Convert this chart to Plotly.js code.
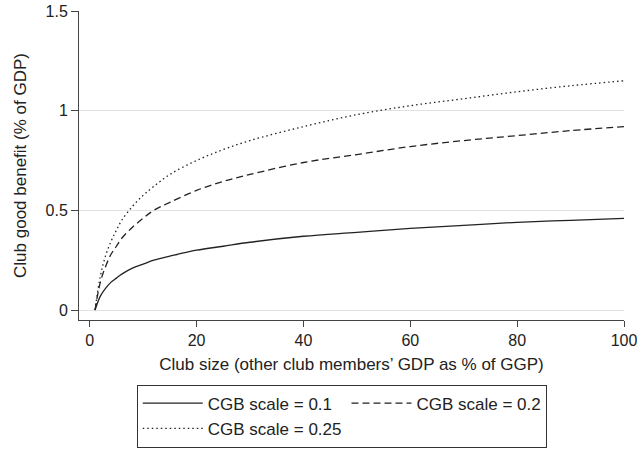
<!DOCTYPE html>
<html>
<head>
<meta charset="utf-8">
<script src="https://cdn.plot.ly/plotly-3.0.1.min.js"></script>
<style>html,body{margin:0;padding:0;background:#fff;}#chart{width:637px;height:449px;}</style>
</head>
<body>
<div id="chart"></div>
<script>
// Club size (other club members' GDP as % of GGP)
const clubSize = [1, 2, 3, 4, 5, 6, 8, 10, 12, 15, 20, 25, 30, 40, 50, 60, 70, 80, 90, 100];
// Club good benefit (% of GDP)
const cgb01  = [0, 0.07, 0.11, 0.14, 0.16, 0.18, 0.21, 0.23, 0.25, 0.27, 0.30, 0.32, 0.34, 0.37, 0.39, 0.41, 0.425, 0.44, 0.45, 0.46];
const cgb02  = [0, 0.14, 0.22, 0.28, 0.32, 0.36, 0.415, 0.46, 0.50, 0.54, 0.60, 0.645, 0.68, 0.74, 0.78, 0.82, 0.85, 0.875, 0.90, 0.92];
const cgb025 = [0, 0.17, 0.275, 0.345, 0.40, 0.45, 0.52, 0.575, 0.62, 0.68, 0.75, 0.805, 0.85, 0.92, 0.98, 1.025, 1.06, 1.095, 1.125, 1.15];
const seriesNames = ['CGB scale = 0.1', 'CGB scale = 0.2', 'CGB scale = 0.25'];
const xTicks = [0, 20, 40, 60, 80, 100];
const yTicks = [0, 0.5, 1, 1.5];
const yTickText = ['0', '0.5', '1', '1.5'];
const yGrid = [0, 0.5, 1];

const ink = '#222';
const font = {family: '"Liberation Sans", Arial, Helvetica, sans-serif', size: 15, color: ink};

const traces = [
  {x: clubSize, y: cgb01, name: seriesNames[0], mode: 'lines', line: {color: ink, width: 1.3, dash: 'solid', shape: 'spline', smoothing: 1}},
  {x: clubSize, y: cgb02, name: seriesNames[1], mode: 'lines', line: {color: ink, width: 1.3, dash: '7px,4px', shape: 'spline', smoothing: 1}},
  {x: clubSize, y: cgb025, name: seriesNames[2], mode: 'lines', line: {color: ink, width: 1.3, dash: '1.5px,3px', shape: 'spline', smoothing: 1}},
  {x: [null], y: [null], xaxis: 'x', yaxis: 'y2', showlegend: false, hoverinfo: 'skip', mode: 'lines'}
];

const layout = {
  width: 637, height: 449,
  margin: {l: 79, r: 13, t: 11, b: 129},
  paper_bgcolor: '#fff', plot_bgcolor: '#fff',
  font: font,
  showlegend: true,
  xaxis: {
    range: [-2, 100], tickvals: xTicks, ticktext: xTicks.map(String),
    showgrid: false, zeroline: false, showline: true, linecolor: '#444', linewidth: 1,
    ticks: 'outside', ticklen: 6, tickcolor: '#444', tickfont: {size: 16},
    ticklabeloverflow: 'allow',
    title: {text: 'Club size (other club members\u2019 GDP as % of GGP)', font: {size: 17}, standoff: 9}
  },
  yaxis: {
    range: [-0.05, 1.5], tickvals: yTicks, ticktext: yTickText,
    showgrid: false, zeroline: false, showline: true, linecolor: '#444', linewidth: 1,
    ticks: 'outside', ticklen: 7, tickcolor: '#444', tickfont: {size: 16},
    title: {text: 'Club good benefit (% of GDP)', font: {size: 17}, standoff: 14}
  },
  yaxis2: {
    overlaying: 'y', matches: 'y', anchor: 'x',
    tickvals: yGrid, showticklabels: false, ticks: '',
    showgrid: true, gridcolor: '#e2e2e2', gridwidth: 1, zeroline: false, showline: false
  },
  legend: {
    orientation: 'h', x: 0.106, xanchor: 'left',
    yref: 'container', y: 0.003, yanchor: 'bottom',
    bordercolor: '#333', borderwidth: 1, bgcolor: '#fff',
    font: {size: 17}, itemwidth: 60, tracegroupgap: 0
  }
};

Plotly.newPlot('chart', traces, layout, {staticPlot: true, displayModeBar: false});
</script>
</body>
</html>
